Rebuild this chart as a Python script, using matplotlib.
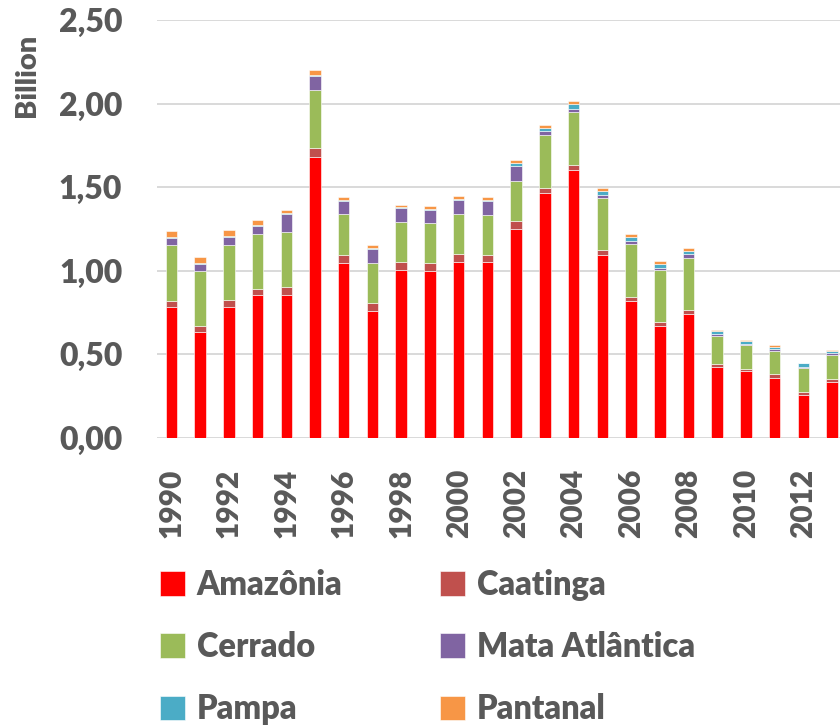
import numpy as np
import matplotlib.pyplot as plt

years = list(range(1990, 2014))

amazonia = [0.786, 0.631, 0.786, 0.854, 0.854, 1.681, 1.046, 0.762, 1.002, 0.996, 1.050, 1.050,
            1.250, 1.465, 1.603, 1.096, 0.820, 0.667, 0.739, 0.427, 0.399, 0.361, 0.259, 0.337]
caatinga = [0.036, 0.036, 0.042, 0.040, 0.052, 0.051, 0.048, 0.044, 0.048, 0.048, 0.048, 0.044,
            0.045, 0.028, 0.028, 0.026, 0.026, 0.024, 0.026, 0.014, 0.016, 0.020, 0.016, 0.014]
cerrado = [0.330, 0.329, 0.328, 0.328, 0.328, 0.348, 0.243, 0.242, 0.242, 0.239, 0.241, 0.241,
           0.244, 0.317, 0.317, 0.313, 0.314, 0.311, 0.313, 0.172, 0.142, 0.142, 0.144, 0.144]
mata = [0.044, 0.042, 0.046, 0.043, 0.105, 0.083, 0.082, 0.082, 0.081, 0.082, 0.082, 0.080,
        0.086, 0.024, 0.022, 0.020, 0.016, 0.016, 0.020, 0.008, 0.008, 0.008, 0.008, 0.016]
pampa = [0.008, 0.008, 0.006, 0.006, 0.006, 0.011, 0.006, 0.006, 0.006, 0.006, 0.006, 0.006,
         0.018, 0.018, 0.026, 0.020, 0.024, 0.024, 0.018, 0.016, 0.018, 0.016, 0.020, 0.010]
pantanal = [0.036, 0.038, 0.036, 0.034, 0.020, 0.024, 0.018, 0.016, 0.016, 0.018, 0.018, 0.020,
            0.022, 0.022, 0.018, 0.020, 0.018, 0.016, 0.018, 0.008, 0.006, 0.008, 0.004, 0.006]

names = ['Amazônia', 'Caatinga', 'Cerrado', 'Mata Atlântica', 'Pampa', 'Pantanal']
colors = ['#FF0000', '#C0504D', '#9BBB59', '#8064A2', '#4BACC6', '#F79646']
series = [amazonia, caatinga, cerrado, mata, pampa, pantanal]

grey = '#595959'
wt = 'heavy'
plt.rcParams['font.family'] = ['Lato', 'DejaVu Sans']
plt.rcParams['font.weight'] = wt

fig = plt.figure(figsize=(8.4, 7.26), dpi=100)
ax = fig.add_axes([157 / 840, 1 - 438 / 726, 689.5 / 840, 418 / 726])

x = np.arange(len(years))
bottom = np.zeros(len(years))
bars = []
for vals, name, c in zip(series, names, colors):
    b = ax.bar(x, vals, 0.4, bottom=bottom, color=c, label=name,
               edgecolor='white', linewidth=0.4, zorder=3)
    bars.append(b)
    bottom += np.array(vals)

ax.set_xlim(-0.5, len(years) - 0.5)
ax.set_ylim(0, 2.5)
yt = np.arange(0, 2.51, 0.5)
ax.set_yticks(yt)
ax.set_yticklabels([f'{v:.2f}'.replace('.', ',') for v in yt], fontsize=23,
                   color=grey, fontweight=wt)
ax.set_xticks(x[::2])
ax.set_xticklabels([str(y) for y in years[::2]], rotation=90, fontsize=21.5,
                   color=grey, fontweight=wt)
ax.tick_params(axis='y', length=0, pad=25)
ax.tick_params(axis='x', length=0, pad=22)
ax.grid(axis='y', color='#d9d9d9', linewidth=1.4, zorder=0)
for s in ax.spines.values():
    s.set_visible(False)

fig.text(27 / 840, 1 - 75 / 726, 'Billion', rotation=90, ha='center', va='center',
         fontsize=21, color=grey, fontweight=wt)

order = [0, 2, 4, 1, 3, 5]
leg = fig.legend([bars[i] for i in order], [names[i] for i in order], ncol=2,
                 loc='upper left', bbox_to_anchor=(160 / 840, 1 - 569 / 726),
                 frameon=False, fontsize=23.5, handlelength=0.77, handleheight=0.77,
                 handletextpad=0.35, labelspacing=0.92, columnspacing=3.0,
                 borderpad=0, borderaxespad=0)
for t in leg.get_texts():
    t.set_color(grey)
    t.set_fontweight(wt)

fig.savefig('out.png', dpi=100)
